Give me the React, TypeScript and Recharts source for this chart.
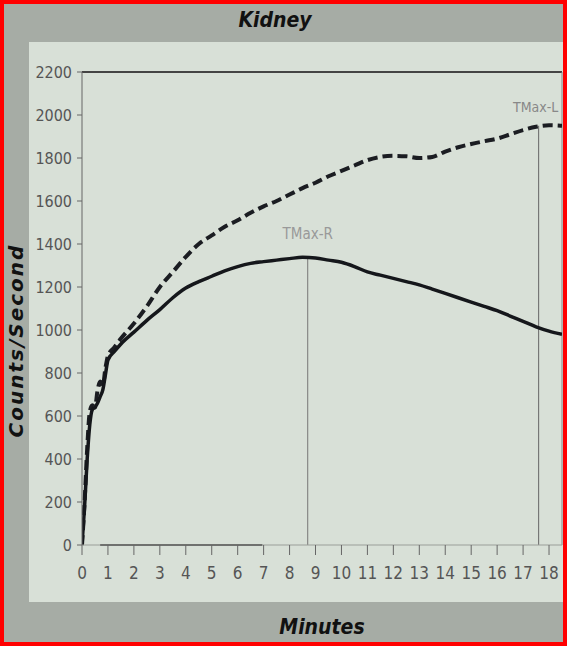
import React from "react"
import { Label, Line, LineChart, ReferenceLine, XAxis, YAxis } from "recharts"

const minutes = [
  0, 0.1, 0.2, 0.3, 0.4, 0.5, 0.6, 0.7, 0.8, 0.9, 1, 1.25, 1.5, 2, 2.5, 3, 3.5, 4, 4.5, 5, 5.5, 6, 6.5, 7, 7.5, 8,
  8.5, 9, 9.5, 10, 10.5, 11, 11.5, 12, 12.5, 13, 13.5, 14, 14.5, 15, 15.5, 16, 16.5, 17, 17.5, 18, 18.5,
]

// right kidney (solid)
const rightCounts = [
  0, 180, 400, 560, 630, 640, 660, 690, 720, 790, 860, 900, 935, 990, 1045, 1095, 1150, 1195, 1225, 1250, 1275, 1295,
  1310, 1318, 1325, 1332, 1338, 1335, 1325, 1315, 1295, 1270, 1255, 1240, 1225, 1210, 1190, 1170, 1150, 1130, 1110,
  1090, 1065, 1040, 1015, 995, 980,
]

// left kidney (dashed)
const leftCounts = [
  0, 200, 450, 620, 650, 640, 720, 760, 740, 820, 880, 920, 960, 1030, 1110, 1200, 1270, 1340, 1400, 1440, 1480, 1510,
  1545, 1575, 1600, 1630, 1660, 1685, 1715, 1740, 1765, 1790, 1805, 1810, 1808, 1800, 1805, 1830, 1850, 1865, 1878,
  1890, 1910, 1930, 1945, 1952, 1950,
]

const xTicks = [0, 1, 2, 3, 4, 5, 6, 7, 8, 9, 10, 11, 12, 13, 14, 15, 16, 17, 18]
const yTicks = [0, 200, 400, 600, 800, 1000, 1200, 1400, 1600, 1800, 2000, 2200]

const tmaxR = 8.7
const tmaxRValue = 1338
const tmaxL = 17.6
const tmaxLValue = 1950

const data = minutes.map((m, i) => ({ min: m, right: rightCounts[i], left: leftCounts[i] }))

const narrow = "'DejaVu Sans', sans-serif"

const YTitle = (props: any) => {
  const vb = props.viewBox
  const cx = 16
  const cy = vb.y + vb.height / 2 + 32
  return (
    <text
      x={cx}
      y={cy}
      transform={`rotate(-90 ${cx} ${cy})`}
      textAnchor="middle"
      dominantBaseline="central"
      style={{
        fontFamily: "'DejaVu Sans', sans-serif",
        fontWeight: "bold",
        fontStyle: "italic",
        fontSize: 20,
        letterSpacing: 2,
        fill: "#111",
      }}
    >
      Counts/Second
    </text>
  )
}

export default function App() {
  return (
    <div style={{ position: "absolute", left: 0, top: 0, width: 567, height: 646, background: "#a6aca5", overflow: "hidden" }}>
      <div style={{ position: "absolute", left: 29, top: 42, width: 540, height: 560, background: "#d8e0d7" }} />
      <div
        style={{
          position: "absolute",
          left: 0,
          top: 8,
          width: 550,
          textAlign: "center",
          fontFamily: narrow,
          fontStretch: "condensed",
          fontWeight: "bold",
          fontStyle: "italic",
          fontSize: 21,
          color: "#111",
        }}
      >
        Kidney
      </div>
      <div style={{ position: "absolute", left: 0, top: 0 }}>
        <LineChart width={567} height={646} data={data} margin={{ top: 72, right: 5, bottom: 71, left: 0 }}>
          <XAxis
            dataKey="min"
            type="number"
            domain={[0, 18.5]}
            ticks={xTicks}
            allowDataOverflow
            stroke="#9a9e99"
            tick={{ fill: "#555", fontSize: 17, fontFamily: narrow, fontStretch: "condensed" }}
            tickLine={{ stroke: "#666" }}
            tickSize={10}
            tickMargin={12}
          >
            <Label
              value="Minutes"
              position="bottom"
              offset={44}
              style={{ fontFamily: narrow, fontStretch: "condensed", fontWeight: "bold", fontStyle: "italic", fontSize: 21, fill: "#111" }}
            />
          </XAxis>
          <YAxis
            type="number"
            domain={[0, 2200]}
            ticks={yTicks}
            width={82}
            stroke="#666"
            tick={{ fill: "#555", fontSize: 16, fontFamily: narrow, fontStretch: "condensed" }}
            tickSize={5}
            tickMargin={5}
          >
            <Label content={YTitle} />
          </YAxis>
          <ReferenceLine y={2200} stroke="#444" strokeWidth={2} />
          <ReferenceLine x={18.5} stroke="#888" />
          <ReferenceLine segment={[{ x: 0.7, y: 0 }, { x: 6.95, y: 0 }]} stroke="#444" strokeWidth={2} />
          <ReferenceLine
            segment={[{ x: tmaxR, y: 0 }, { x: tmaxR, y: tmaxRValue }]}
            stroke="#777"
            label={{ value: "TMax-R", position: "top", offset: 18, fill: "#999", fontSize: 15, fontFamily: narrow, fontStretch: "condensed" }}
          />
          <ReferenceLine
            segment={[{ x: tmaxL, y: 0 }, { x: tmaxL, y: tmaxLValue }]}
            stroke="#666"
            label={{ value: "TMax-L", position: "top", offset: 14, dx: -3, fill: "#888", fontSize: 14, fontFamily: narrow, fontStretch: "condensed" }}
          />
          <Line
            type="monotone"
            dataKey="left"
            stroke="#1b1d22"
            strokeWidth={4}
            strokeDasharray="10 5"
            dot={false}
            isAnimationActive={false}
          />
          <Line type="monotone" dataKey="right" stroke="#15171b" strokeWidth={3.5} dot={false} isAnimationActive={false} />
        </LineChart>
      </div>
      <div
        style={{
          position: "absolute",
          left: 0,
          top: 0,
          width: 567,
          height: 646,
          boxSizing: "border-box",
          border: "4px solid #ff0000",
          pointerEvents: "none",
        }}
      />
    </div>
  )
}
